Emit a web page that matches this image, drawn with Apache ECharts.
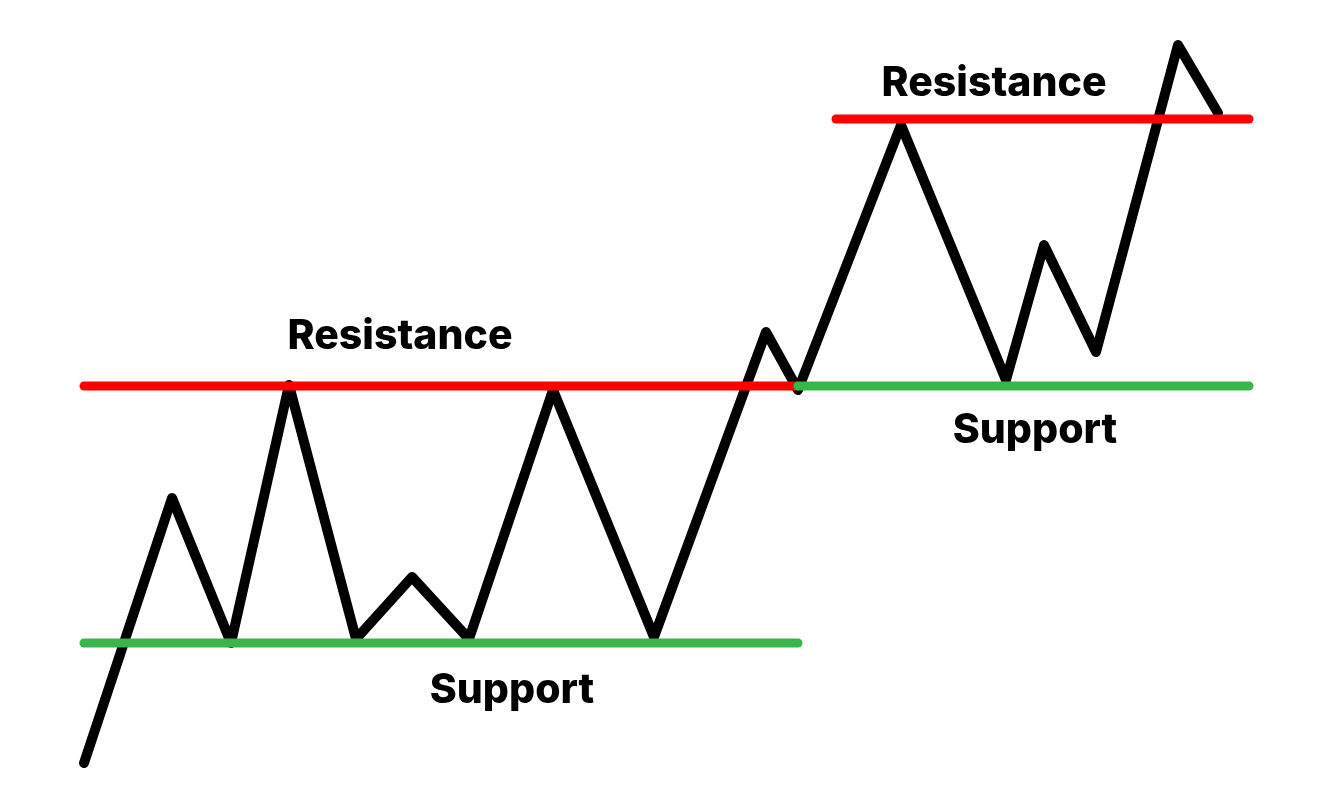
<!DOCTYPE html>
<html>
<head>
<meta charset="utf-8">
<script src="https://cdn.jsdelivr.net/npm/echarts@6/dist/echarts.min.js"></script>
<style>
html,body{margin:0;padding:0;background:#fff;}
#chart{width:1335px;height:809px;}
</style>
</head>
<body>
<div id="chart"></div>
<script>
// Price path (x = time position, y = price level)
const priceX = [84, 172, 231, 289, 356, 412, 469, 553, 654, 766, 798, 901, 1006, 1044, 1096, 1178, 1218];
const priceY = [46, 311, 166, 424, 170, 232, 170, 419, 172, 477, 419, 684, 429, 564, 457, 764, 696];

// Support / resistance levels
const resistance1 = {x: [84, 798], y: 423};
const support1 = {x: [84, 798], y: 166};
const resistance2 = {x: [836, 1249], y: 690};
const support2 = {x: [798, 1249], y: 423};

// Labels
const labelNames = ['Resistance', 'Support', 'Resistance', 'Support'];
const labelX = [400, 512, 994, 1035];
const labelY = [472, 118, 725, 378];

const pricePath = priceX.map((x, i) => [x, priceY[i]]);
const levelData = l => [[l.x[0], l.y], [l.x[1], l.y]];

const chart = echarts.init(document.getElementById('chart'), null, {renderer: 'canvas'});
const lineBase = {type: 'line', symbol: 'none', silent: true, animation: false};
chart.setOption({
  backgroundColor: '#ffffff',
  animation: false,
  grid: {left: 0, right: 0, top: 0, bottom: 0},
  xAxis: {type: 'value', min: 0, max: 1335, show: false},
  yAxis: {type: 'value', min: 0, max: 809, show: false},
  series: [
    Object.assign({}, lineBase, {
      data: pricePath, z: 2,
      lineStyle: {color: '#000000', width: 10, cap: 'round', join: 'round'}
    }),
    Object.assign({}, lineBase, {
      data: levelData(resistance1), z: 3,
      lineStyle: {color: '#ff0000', width: 9, cap: 'round'}
    }),
    Object.assign({}, lineBase, {
      data: levelData(resistance2), z: 3,
      lineStyle: {color: '#ff0000', width: 9, cap: 'round'}
    }),
    Object.assign({}, lineBase, {
      data: levelData(support1), z: 3,
      lineStyle: {color: '#3ab54a', width: 9, cap: 'round'}
    }),
    Object.assign({}, lineBase, {
      data: levelData(support2), z: 4,
      lineStyle: {color: '#3ab54a', width: 9, cap: 'round'}
    }),
    {
      type: 'scatter', silent: true, animation: false, symbolSize: 1, z: 5,
      itemStyle: {color: 'rgba(0,0,0,0)'},
      data: labelNames.map((n, i) => ({name: n, value: [labelX[i], labelY[i]]})),
      label: {
        show: true, position: 'inside', formatter: p => p.name,
        fontFamily: 'Inter', fontWeight: 800, fontSize: 41, color: '#000000',
        textBorderWidth: 0, opacity: 1
      }
    }
  ]
});
</script>
</body>
</html>
